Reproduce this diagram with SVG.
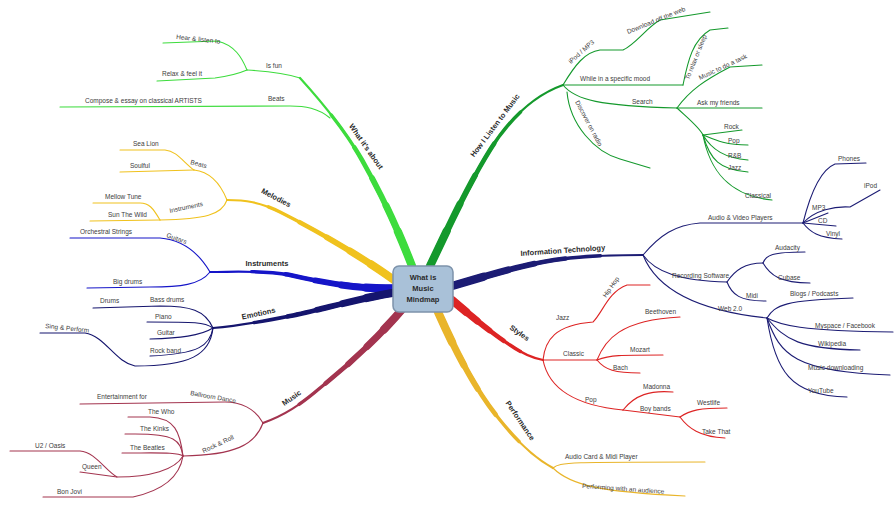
<svg xmlns="http://www.w3.org/2000/svg" width="895" height="509" viewBox="0 0 895 509">
<style>
.t{font-family:"Liberation Sans",Arial,sans-serif;font-size:6.5px;fill:#3c3c3c}
.b{font-family:"Liberation Sans",Arial,sans-serif;font-size:7.5px;font-weight:bold;fill:#2a2a2a}
.s{fill:none;stroke-linecap:round;stroke-linejoin:round}
.gl{stroke:#3ddc3d}.yl{stroke:#f0c21e}.bl{stroke:#1515c8}.nl{stroke:#15156e}.rl{stroke:#a3344f}
.gr{stroke:#14992c}.nr{stroke:#1c1c74}.rr{stroke:#dd2424}.yr{stroke:#e9b52a}
.w1{stroke-width:2.2}
.w2{stroke-width:3.4;stroke-dasharray:78 300}
.w3{stroke-width:4.6;stroke-dasharray:60 300}
.w4{stroke-width:5.8;stroke-dasharray:44 300}
.w5{stroke-width:7;stroke-dasharray:30 300}
.w6{stroke-width:8.2;stroke-dasharray:17 300}
.th{stroke-width:1.1}
</style>
<defs>
  <path id="pGL" pathLength="100" d="M412,266 C400,235 385,200 362,160 C345,130 320,100 300,78"/>
  <path id="pYL" pathLength="100" d="M398,283 C370,262 320,232 280,212 C260,202 245,200 227,200"/>
  <path id="pBL" pathLength="100" d="M398,288 C360,290 320,282 290,275 C260,270 235,272 210,272"/>
  <path id="pNL" pathLength="100" d="M398,292 C360,298 320,310 290,316 C260,322 235,326 213,328"/>
  <path id="pRL" pathLength="100" d="M405,306 C385,330 355,360 320,388 C300,405 285,415 263,423"/>
  <path id="pGR" pathLength="100" d="M430,266 C445,235 465,190 490,150 C510,118 535,95 563,85"/>
  <path id="pNR" pathLength="100" d="M452,286 C490,275 530,262 570,258 C600,255 625,255 643,255"/>
  <path id="pRR" pathLength="100" d="M452,300 C470,315 490,332 510,345 C520,352 532,358 543,360"/>
  <path id="pYR" pathLength="100" d="M438,312 C455,350 475,390 500,420 C520,445 538,460 553,468"/>
</defs>
<rect width="895" height="509" fill="#ffffff"/>
<g id="connectors">
  <g class="s gl"><use href="#pGL" class="w1"/><use href="#pGL" class="w2"/><use href="#pGL" class="w3"/><use href="#pGL" class="w4"/><use href="#pGL" class="w5"/><use href="#pGL" class="w6"/></g>
  <g class="s yl"><use href="#pYL" class="w1"/><use href="#pYL" class="w2"/><use href="#pYL" class="w3"/><use href="#pYL" class="w4"/><use href="#pYL" class="w5"/><use href="#pYL" class="w6"/></g>
  <g class="s bl"><use href="#pBL" class="w1"/><use href="#pBL" class="w2"/><use href="#pBL" class="w3"/><use href="#pBL" class="w4"/><use href="#pBL" class="w5"/><use href="#pBL" class="w6"/></g>
  <g class="s nl"><use href="#pNL" class="w1"/><use href="#pNL" class="w2"/><use href="#pNL" class="w3"/><use href="#pNL" class="w4"/><use href="#pNL" class="w5"/><use href="#pNL" class="w6"/></g>
  <g class="s rl"><use href="#pRL" class="w1"/><use href="#pRL" class="w2"/><use href="#pRL" class="w3"/><use href="#pRL" class="w4"/><use href="#pRL" class="w5"/><use href="#pRL" class="w6"/></g>
  <g class="s gr"><use href="#pGR" class="w1"/><use href="#pGR" class="w2"/><use href="#pGR" class="w3"/><use href="#pGR" class="w4"/><use href="#pGR" class="w5"/><use href="#pGR" class="w6"/></g>
  <g class="s nr"><use href="#pNR" class="w1"/><use href="#pNR" class="w2"/><use href="#pNR" class="w3"/><use href="#pNR" class="w4"/><use href="#pNR" class="w5"/><use href="#pNR" class="w6"/></g>
  <g class="s rr"><use href="#pRR" class="w1"/><use href="#pRR" class="w2"/><use href="#pRR" class="w3"/><use href="#pRR" class="w4"/><use href="#pRR" class="w5"/><use href="#pRR" class="w6"/></g>
  <g class="s yr"><use href="#pYR" class="w1"/><use href="#pYR" class="w2"/><use href="#pYR" class="w3"/><use href="#pYR" class="w4"/><use href="#pYR" class="w5"/><use href="#pYR" class="w6"/></g>

  <g class="s gl th">
    <path d="M300,78 C285,73 265,71 247,70"/>
    <path d="M247,70 C242,58 235,45 217,41 L163,43"/>
    <path d="M247,70 C240,73 230,76 215,78 L157,81"/>
    <path d="M330,118 C318,108 305,106 290,106 L60,107"/>
  </g>
  <g class="s yl th">
    <path d="M227,200 C221,185 212,172 194,170"/>
    <path d="M194,170 C183,162 177,151 165,150 L120,150"/>
    <path d="M194,170 L120,172"/>
    <path d="M227,200 C222,215 205,219 160,220"/>
    <path d="M160,220 C153,208 149,203 140,203 L93,203"/>
    <path d="M160,220 L90,221"/>
  </g>
  <g class="s bl th">
    <path d="M210,272 C200,255 185,240 160,238 L70,238"/>
    <path d="M210,272 C200,285 180,287 150,287 L87,288"/>
  </g>
  <g class="s nl th">
    <path d="M213,328 C205,310 190,306 160,306 L93,308"/>
    <path d="M213,328 C205,322 195,322 147,322"/>
    <path d="M213,328 C200,336 180,338 150,339"/>
    <path d="M213,328 C210,345 200,354 150,356"/>
    <path d="M213,328 C210,355 190,366 135,366 C115,362 105,336 85,333 L40,333"/>
  </g>
  <g class="s rl th">
    <path d="M263,423 C255,408 240,402 225,402 L80,404"/>
    <path d="M263,423 C255,445 235,455 183,456"/>
    <path d="M183,456 C180,432 175,418 150,417 L128,417"/>
    <path d="M183,456 C180,440 175,434 135,434 L125,434"/>
    <path d="M183,456 C178,452 160,453 122,453"/>
    <path d="M183,456 C175,470 150,477 117,477 C105,470 95,452 80,451 L10,451"/>
    <path d="M117,477 L80,472"/>
    <path d="M183,456 C180,475 165,490 133,497 L43,497"/>
  </g>
  <g class="s gr th">
    <path d="M563,85 C575,65 585,52 600,50 L623,50 C636,44 646,28 660,20 L710,12"/>
    <path d="M563,85 L683,85"/>
    <path d="M683,85 C688,60 693,40 710,30 L728,28"/>
    <path d="M563,85 C575,100 600,106 677,108"/>
    <path d="M677,108 C690,90 705,80 730,67 L762,65"/>
    <path d="M677,108 L762,108"/>
    <path d="M677,108 C690,120 700,128 703,135"/>
    <path d="M703,135 L742,130"/>
    <path d="M703,135 C715,140 725,145 748,145"/>
    <path d="M703,135 C712,150 725,158 748,160"/>
    <path d="M703,135 C710,160 720,170 748,172"/>
    <path d="M703,135 C710,172 730,196 772,200"/>
    <path d="M567,92 C570,125 595,152 620,159 L650,168"/>
  </g>
  <g class="s nr th">
    <path d="M643,255 C660,235 675,225 700,223 L803,223"/>
    <path d="M803,223 C810,195 820,170 835,164 L866,163"/>
    <path d="M803,223 C815,210 835,206 850,207 L880,190"/>
    <path d="M803,223 L828,213"/>
    <path d="M803,223 L836,226"/>
    <path d="M803,223 C810,232 818,238 842,239"/>
    <path d="M643,255 C655,272 680,281 727,282"/>
    <path d="M727,282 C735,270 745,263 763,263"/>
    <path d="M763,263 C766,255 772,252 805,252"/>
    <path d="M763,263 C770,275 780,283 810,283"/>
    <path d="M727,282 C732,295 740,301 766,301"/>
    <path d="M643,255 C655,285 690,310 767,318"/>
    <path d="M767,318 C775,305 785,300 853,298"/>
    <path d="M767,318 C780,325 800,331 893,332"/>
    <path d="M767,318 C785,340 800,349 860,350"/>
    <path d="M767,318 C780,355 795,372 890,375"/>
    <path d="M767,318 C775,370 790,396 847,397"/>
  </g>
  <g class="s rr th">
    <path d="M543,360 C545,340 555,325 593,322 C603,312 608,292 627,285 L650,285"/>
    <path d="M543,360 L597,360"/>
    <path d="M597,360 C605,340 620,320 680,317"/>
    <path d="M597,360 C610,355 620,355 663,355"/>
    <path d="M597,360 C605,370 615,373 640,373"/>
    <path d="M543,360 C548,385 570,405 623,410"/>
    <path d="M623,410 C635,395 650,390 673,392"/>
    <path d="M623,410 L680,417"/>
    <path d="M680,417 C690,410 700,408 727,408"/>
    <path d="M680,417 C688,428 700,437 725,438"/>
  </g>
  <g class="s yr th">
    <path d="M553,468 C560,462 570,462 705,462"/>
    <path d="M553,468 C570,485 600,492 685,496"/>
  </g>
</g>

<g id="center">
  <rect x="393" y="266" width="60" height="46" rx="6" fill="#a9c1d8" stroke="#7d93ab" stroke-width="1.5"/>
  <text class="b" x="423" y="280" text-anchor="middle" fill="#1e2a55">What is</text>
  <text class="b" x="423" y="291" text-anchor="middle" fill="#1e2a55">Music</text>
  <text class="b" x="423" y="302" text-anchor="middle" fill="#1e2a55">Mindmap</text>
</g>

<g id="n-about"><text class="b" transform="translate(364,148) rotate(55)" text-anchor="middle">What it's about</text></g>
<g id="n-hear"><text class="t" x="176" y="39" transform="rotate(6 176 39)">Hear &amp; listen to</text></g>
<g id="n-relax"><text class="t" x="162" y="76">Relax &amp; feel it</text></g>
<g id="n-fun"><text class="t" x="266" y="68">Is fun</text></g>
<g id="n-beats1"><text class="t" x="268" y="101">Beats</text></g>
<g id="n-compose"><text class="t" x="85" y="103">Compose &amp; essay on classical ARTISTS</text></g>

<g id="n-melodies"><text class="b" transform="translate(275,200) rotate(28)" text-anchor="middle">Melodies</text></g>
<g id="n-beats2"><text class="t" transform="translate(190,164) rotate(15)">Beats</text></g>
<g id="n-sealion"><text class="t" x="133" y="146">Sea Lion</text></g>
<g id="n-soulful"><text class="t" x="130" y="168">Soulful</text></g>
<g id="n-instr1"><text class="t" transform="translate(170,213) rotate(-12)">Instruments</text></g>
<g id="n-mellow"><text class="t" x="105" y="199">Mellow Tune</text></g>
<g id="n-wild"><text class="t" x="108" y="217">Sun The Wild</text></g>

<g id="n-instruments"><text class="b" x="267" y="266" text-anchor="middle">Instruments</text></g>
<g id="n-orch"><text class="t" x="80" y="234">Orchestral Strings</text></g>
<g id="n-guitars"><text class="t" transform="translate(166,237) rotate(20)">Guitars</text></g>
<g id="n-bigdrum"><text class="t" x="113" y="284">Big drums</text></g>

<g id="n-emotions"><text class="b" transform="translate(259,316) rotate(-12)" text-anchor="middle">Emotions</text></g>
<g id="n-drums"><text class="t" x="100" y="303">Drums</text></g>
<g id="n-bass"><text class="t" x="150" y="302">Bass drums</text></g>
<g id="n-piano"><text class="t" x="155" y="319">Piano</text></g>
<g id="n-guitar"><text class="t" x="157" y="335">Guitar</text></g>
<g id="n-rockband"><text class="t" x="150" y="353">Rock band</text></g>
<g id="n-sing"><text class="t" transform="translate(45,328) rotate(6)">Sing &amp; Perform</text></g>

<g id="n-music"><text class="b" transform="translate(293,400) rotate(-35)" text-anchor="middle">Music</text></g>
<g id="n-ent"><text class="t" x="97" y="399">Entertainment for</text></g>
<g id="n-ballroom"><text class="t" transform="translate(190,395) rotate(10)">Ballroom Dance</text></g>
<g id="n-rock"><text class="t" transform="translate(219,446) rotate(-25)" text-anchor="middle">Rock &amp; Roll</text></g>
<g id="n-who"><text class="t" x="148" y="414">The Who</text></g>
<g id="n-kinks"><text class="t" x="140" y="431">The Kinks</text></g>
<g id="n-beatles"><text class="t" x="130" y="450">The Beatles</text></g>
<g id="n-u2"><text class="t" x="35" y="448">U2 / Oasis</text></g>
<g id="n-queen"><text class="t" x="82" y="469">Queen</text></g>
<g id="n-bonjovi"><text class="t" x="57" y="494">Bon Jovi</text></g>

<g id="n-listen"><text class="b" transform="translate(497,127) rotate(-53)" text-anchor="middle">How I Listen to Music</text></g>
<g id="n-ipod"><text class="t" transform="translate(571,64) rotate(-42)">iPod / MP3</text></g>
<g id="n-download"><text class="t" transform="translate(628,34) rotate(-22)">Download off the web</text></g>
<g id="n-mood"><text class="t" x="580" y="81">While in a specific mood</text></g>
<g id="n-sleep"><text class="t" transform="translate(689,80) rotate(-68)">To relax or sleep</text></g>
<g id="n-search"><text class="t" x="632" y="104">Search</text></g>
<g id="n-online"><text class="t" transform="translate(700,80) rotate(-25)">Music to do a task</text></g>
<g id="n-friends"><text class="t" x="697" y="105">Ask my friends</text></g>
<g id="n-rockg"><text class="t" x="724" y="129">Rock</text></g>
<g id="n-popg"><text class="t" x="728" y="143">Pop</text></g>
<g id="n-rnb"><text class="t" x="728" y="158">R&amp;B</text></g>
<g id="n-jazzg"><text class="t" x="728" y="170">Jazz</text></g>
<g id="n-classg"><text class="t" x="745" y="198">Classical</text></g>
<g id="n-discover"><text class="t" transform="translate(575,102) rotate(62)">Discover on radio</text></g>

<g id="n-it"><text class="b" transform="translate(563,253) rotate(-4)" text-anchor="middle">Information Technology</text></g>
<g id="n-players"><text class="t" x="708" y="220">Audio &amp; Video Players</text></g>
<g id="n-phones"><text class="t" x="838" y="161">Phones</text></g>
<g id="n-ipod2"><text class="t" x="864" y="188">iPod</text></g>
<g id="n-mp3"><text class="t" x="812" y="210">MP3</text></g>
<g id="n-cd"><text class="t" x="818" y="223">CD</text></g>
<g id="n-vinyl"><text class="t" x="826" y="236">Vinyl</text></g>
<g id="n-recording"><text class="t" x="672" y="278">Recording Software</text></g>
<g id="n-audacity"><text class="t" x="775" y="250">Audacity</text></g>
<g id="n-cubase"><text class="t" x="778" y="280">Cubase</text></g>
<g id="n-midi"><text class="t" x="746" y="298">Midi</text></g>
<g id="n-web"><text class="t" x="718" y="311">Web 2.0</text></g>
<g id="n-blogs"><text class="t" x="790" y="296">Blogs / Podcasts</text></g>
<g id="n-myspace"><text class="t" x="815" y="328">Myspace / Facebook</text></g>
<g id="n-wiki"><text class="t" x="818" y="346">Wikipedia</text></g>
<g id="n-dl"><text class="t" x="808" y="370">Music downloading</text></g>
<g id="n-youtube"><text class="t" x="808" y="393">YouTube</text></g>

<g id="n-styles"><text class="b" transform="translate(518,335) rotate(35)" text-anchor="middle">Styles</text></g>
<g id="n-jazz"><text class="t" x="556" y="320">Jazz</text></g>
<g id="n-hiphop"><text class="t" transform="translate(606,298) rotate(-55)">Hip Hop</text></g>
<g id="n-classic"><text class="t" x="563" y="356">Classic</text></g>
<g id="n-beethoven"><text class="t" x="645" y="314">Beethoven</text></g>
<g id="n-mozart"><text class="t" x="630" y="352">Mozart</text></g>
<g id="n-bach"><text class="t" x="613" y="370">Bach</text></g>
<g id="n-pop"><text class="t" x="585" y="402">Pop</text></g>
<g id="n-madonna"><text class="t" x="643" y="389">Madonna</text></g>
<g id="n-boyband"><text class="t" x="640" y="411">Boy bands</text></g>
<g id="n-westlife"><text class="t" x="697" y="405">Westlife</text></g>
<g id="n-takethat"><text class="t" x="702" y="434">Take That</text></g>

<g id="n-performance"><text class="b" transform="translate(518,422) rotate(56)" text-anchor="middle">Performance</text></g>
<g id="n-audiocard"><text class="t" x="565" y="459">Audio Card &amp; Midi Player</text></g>
<g id="n-audience"><text class="t" transform="translate(582,488) rotate(4)">Performing with an audience</text></g>
</svg>
